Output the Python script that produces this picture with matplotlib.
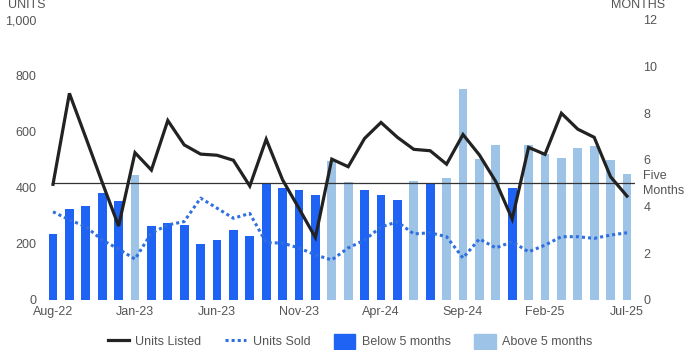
import matplotlib
matplotlib.use('Agg')
import matplotlib.pyplot as plt
from matplotlib.lines import Line2D
from matplotlib.patches import Patch
from matplotlib.ticker import FuncFormatter

plt.rcParams['font.family'] = ['Liberation Sans', 'DejaVu Sans']

months = ['Aug-22', 'Sep-22', 'Oct-22', 'Nov-22', 'Dec-22', 'Jan-23', 'Feb-23', 'Mar-23', 'Apr-23',
          'May-23', 'Jun-23', 'Jul-23', 'Aug-23', 'Sep-23', 'Oct-23', 'Nov-23', 'Dec-23', 'Jan-24',
          'Feb-24', 'Mar-24', 'Apr-24', 'May-24', 'Jun-24', 'Jul-24', 'Aug-24', 'Sep-24', 'Oct-24',
          'Nov-24', 'Dec-24', 'Jan-25', 'Feb-25', 'Mar-25', 'Apr-25', 'May-25', 'Jun-25', 'Jul-25']

# months of supply (right axis)
supply = [2.83, 3.9, 4.03, 4.59, 4.24, 5.36, 3.17, 3.3, 3.21, 2.4, 2.57, 3.0,
          2.74, 4.97, 4.8, 4.71, 4.5, 5.96, 5.05, 4.71, 4.5, 4.29, 5.1, 4.97,
          5.23, 9.04, 6.04, 6.64, 4.8, 6.64, 6.25, 6.09, 6.51, 6.6, 6.0, 5.4]

units_listed = [413, 738, 580, 420, 264, 526, 464, 641, 554, 521, 517, 499,
                407, 574, 429, 327, 223, 503, 476, 577, 634, 581, 538, 533,
                485, 591, 518, 423, 289, 545, 520, 667, 610, 581, 440, 371]

units_sold = [315, 286, 262, 214, 182, 146, 239, 268, 280, 364, 328, 292,
              309, 205, 203, 186, 161, 143, 186, 214, 261, 279, 236, 240,
              226, 150, 218, 186, 208, 172, 196, 226, 226, 220, 232, 240]

threshold = 5
dark_blue = '#1f63f5'
light_blue = '#9dc3e6'
gray = '#555555'

x = list(range(len(months)))
bar_colors = [light_blue if v > threshold else dark_blue for v in supply]

fig = plt.figure(figsize=(7, 3.5), dpi=100)
ax = fig.add_axes([0.064, 0.1429, 0.8434, 0.8])
ax2 = ax.twinx()

ax2.bar(x, supply, width=0.53, color=bar_colors)
ax2.plot([-0.05, 35.8], [threshold, threshold], color='#333333', lw=0.9)
ax2.text(35.95, threshold, 'Five\nMonths', fontsize=9, color=gray, va='center', ha='left',
         linespacing=1.3)

ax.plot(x, units_listed, color='#222222', lw=2.3, solid_joinstyle='miter')
ax.plot(x, units_sold, color='#2f6fe0', lw=2.2, linestyle=(0, (1, 1)))

ax.set_zorder(ax2.get_zorder() + 1)
ax.patch.set_visible(False)

ax.set_xlim(-0.5, 35.5)
ax.set_ylim(0, 1000)
ax2.set_ylim(0, 12)
ax.set_yticks(range(0, 1001, 200))
ax.yaxis.set_major_formatter(FuncFormatter(lambda v, p: f'{int(v):,}'))
ax2.set_yticks(range(0, 13, 2))
ax.set_xticks(x[::5])
ax.set_xticklabels(months[::5])

for a in (ax, ax2):
    for s in a.spines.values():
        s.set_visible(False)
    a.tick_params(length=0, labelsize=9, labelcolor=gray)
ax.tick_params(axis='y', pad=6)
ax2.tick_params(axis='y', pad=6)
ax.tick_params(axis='x', pad=4)

fig.text(0.012, 0.985, 'UNITS', fontsize=9, color=gray, ha='left', va='center')
fig.text(0.873, 0.985, 'MONTHS', fontsize=9, color=gray, ha='left', va='center')

handles = [Line2D([], [], color='#222222', lw=2.3),
           Line2D([], [], color='#2f6fe0', lw=2.2, linestyle=(0, (1, 1))),
           Patch(color=dark_blue), Patch(color=light_blue)]
labels = ['Units Listed', 'Units Sold', 'Below 5 months', 'Above 5 months']
fig.legend(handles, labels, loc='center', bbox_to_anchor=(0.5, 0.025), ncol=4, frameon=False,
           fontsize=9, labelcolor=gray, handlelength=1.7, handleheight=1.5, columnspacing=1.9,
           handletextpad=0.5)

fig.savefig('out.png', dpi=100)
